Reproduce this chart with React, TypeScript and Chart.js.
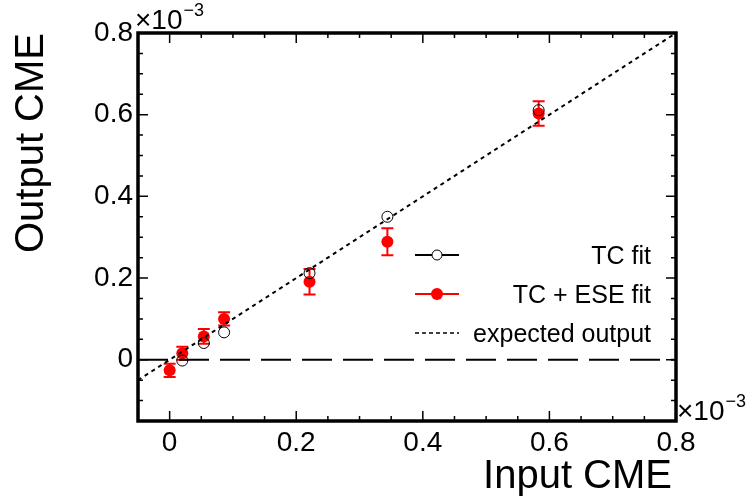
import React, { useEffect, useRef } from "react";
import { Chart, registerables } from "chart.js";

Chart.register(...registerables);

// ---- data (units of 1e-3) ----
const tcX = [0.02, 0.054, 0.086, 0.221, 0.344, 0.583];
const tcY = [-0.002, 0.041, 0.067, 0.212, 0.35, 0.611];
const eseX = [0.0, 0.02, 0.054, 0.086, 0.221, 0.344, 0.583];
const eseY = [-0.026, 0.016, 0.057, 0.1, 0.191, 0.289, 0.603];
const eseErr = [0.016, 0.016, 0.018, 0.016, 0.031, 0.033, 0.03];
const lineX = [-0.05, 0.8];
const xRange = [-0.05, 0.8];
const yRange = [-0.15, 0.8];
const majorStep = 0.2;
const minorStep = 0.05;
const legendLabels = ["TC fit", "TC + ESE fit", "expected output"];
const xTitle = "Input CME";
const yTitle = "Output CME";
const expLabel = "×10";
const expSup = "−3";

const FONT = "'Liberation Sans', Arial, Helvetica, sans-serif";

const isMajor = (v: number) => {
  const r = Math.round(v / majorStep);
  return Math.abs(v - r * majorStep) < 1e-6;
};
const fmt = (v: number) => {
  if (!isMajor(v)) return "";
  const r = Math.round(v / majorStep);
  if (r < 0) return "";
  return r === 0 ? "0" : (r * majorStep).toFixed(1);
};

const framePlugin = {
  id: "rootFrame",
  beforeDatasetsDraw(chart: any) {
    const { ctx, scales } = chart;
    const xs = scales.x, ys = scales.y;
    ctx.save();
    ctx.strokeStyle = "#ff0000";
    ctx.lineWidth = 2;
    eseX.forEach((x, i) => {
      const px = xs.getPixelForValue(x);
      const y1 = ys.getPixelForValue(eseY[i] + eseErr[i]);
      const y2 = ys.getPixelForValue(eseY[i] - eseErr[i]);
      ctx.beginPath();
      ctx.moveTo(px, y1);
      ctx.lineTo(px, y2);
      ctx.moveTo(px - 6, y1);
      ctx.lineTo(px + 6, y1);
      ctx.moveTo(px - 6, y2);
      ctx.lineTo(px + 6, y2);
      ctx.stroke();
    });
    ctx.restore();
  },
  afterDraw(chart: any) {
    const { ctx, chartArea: a, scales } = chart;
    const xs = scales.x, ys = scales.y;
    ctx.save();
    // ticks
    ctx.strokeStyle = "#000";
    ctx.lineWidth = 1.5;
    xs.ticks.forEach((t: any) => {
      const px = xs.getPixelForValue(t.value);
      if (px <= a.left + 1 || px >= a.right - 1) return;
      const L = isMajor(t.value) ? 10 : 5;
      ctx.beginPath();
      ctx.moveTo(px, a.bottom);
      ctx.lineTo(px, a.bottom - L);
      ctx.moveTo(px, a.top);
      ctx.lineTo(px, a.top + L);
      ctx.stroke();
    });
    ys.ticks.forEach((t: any) => {
      const py = ys.getPixelForValue(t.value);
      if (py <= a.top + 1 || py >= a.bottom - 1) return;
      const L = isMajor(t.value) ? 10 : 5;
      ctx.beginPath();
      ctx.moveTo(a.left, py);
      ctx.lineTo(a.left + L, py);
      ctx.moveTo(a.right, py);
      ctx.lineTo(a.right - L, py);
      ctx.stroke();
    });
    // frame
    ctx.lineWidth = 3.5;
    ctx.strokeRect(a.left, a.top, a.right - a.left, a.bottom - a.top);

    // exponent labels
    ctx.fillStyle = "#000";
    ctx.textBaseline = "alphabetic";
    ctx.textAlign = "left";
    const drawExp = (x: number, y: number) => {
      ctx.font = `28px ${FONT}`;
      ctx.fillText(expLabel, x, y);
      const w = ctx.measureText(expLabel).width;
      ctx.font = `18px ${FONT}`;
      ctx.fillText(expSup, x + w + 1, y - 13);
    };
    drawExp(a.left - 3, a.top - 4);
    drawExp(a.right + 1, a.bottom - 1);

    // axis titles
    ctx.font = `40px ${FONT}`;
    ctx.textAlign = "right";
    ctx.fillText(xTitle, a.right - 4, 488);
    ctx.save();
    ctx.translate(43, a.top);
    ctx.rotate(-Math.PI / 2);
    ctx.textAlign = "right";
    ctx.fillText(yTitle, 0, 0);
    ctx.restore();

    // legend
    const lx1 = 415, lx2 = 459, lxm = 437, textR = 651;
    const rows = [255, 294, 333];
    ctx.font = `25px ${FONT}`;
    ctx.textAlign = "right";
    ctx.textBaseline = "alphabetic";
    const baseOff = 9;
    // TC fit
    ctx.strokeStyle = "#000";
    ctx.lineWidth = 2;
    ctx.beginPath();
    ctx.moveTo(lx1, rows[0]);
    ctx.lineTo(lxm - 5, rows[0]);
    ctx.moveTo(lxm + 5, rows[0]);
    ctx.lineTo(lx2, rows[0]);
    ctx.stroke();
    ctx.lineWidth = 1;
    ctx.beginPath();
    ctx.arc(lxm, rows[0], 5, 0, Math.PI * 2);
    ctx.stroke();
    ctx.fillText(legendLabels[0], textR, rows[0] + baseOff);
    // TC + ESE fit
    ctx.strokeStyle = "#ff0000";
    ctx.fillStyle = "#ff0000";
    ctx.lineWidth = 2;
    ctx.beginPath();
    ctx.moveTo(lx1, rows[1]);
    ctx.lineTo(lx2, rows[1]);
    ctx.stroke();
    ctx.beginPath();
    ctx.arc(lxm, rows[1], 6, 0, Math.PI * 2);
    ctx.fill();
    ctx.fillStyle = "#000";
    ctx.fillText(legendLabels[1], textR, rows[1] + baseOff);
    // expected
    ctx.strokeStyle = "#000";
    ctx.lineWidth = 1.5;
    ctx.setLineDash([4, 3]);
    ctx.beginPath();
    ctx.moveTo(lx1, rows[2]);
    ctx.lineTo(lx2, rows[2]);
    ctx.stroke();
    ctx.setLineDash([]);
    ctx.fillText(legendLabels[2], textR, rows[2] + baseOff);
    ctx.restore();
  },
};

export default function App() {
  const ref = useRef<HTMLCanvasElement | null>(null);
  useEffect(() => {
    if (!ref.current) return;
    const tickFont = { family: FONT, size: 28 };
    const chart = new Chart(ref.current, {
      type: "scatter",
      data: {
        datasets: [
          {
            type: "line",
            label: "zero",
            data: lineX.map((x) => ({ x, y: 0 })),
            borderColor: "#000",
            borderWidth: 2,
            borderDash: [30, 11],
            pointRadius: 0,
            fill: false,
          } as any,
          {
            type: "line",
            label: legendLabels[2],
            data: lineX.map((x) => ({ x, y: x })),
            borderColor: "#000",
            borderWidth: 2,
            borderDash: [4, 4],
            pointRadius: 0,
            fill: false,
          } as any,
          {
            label: legendLabels[0],
            data: tcX.map((x, i) => ({ x, y: tcY[i] })),
            pointStyle: "circle",
            pointRadius: 5.5,
            borderColor: "#000",
            borderWidth: 1,
            backgroundColor: "rgba(0,0,0,0)",
          },
          {
            label: legendLabels[1],
            data: eseX.map((x, i) => ({ x, y: eseY[i] })),
            pointStyle: "circle",
            pointRadius: 6,
            borderColor: "#ff0000",
            borderWidth: 0,
            backgroundColor: "#ff0000",
          },
        ],
      },
      options: {
        responsive: false,
        animation: false,
        devicePixelRatio: 1,
        events: [],
        layout: { padding: { left: 0, top: 33, right: 72, bottom: 0 } },
        plugins: { legend: { display: false }, tooltip: { enabled: false } },
        scales: {
          x: {
            type: "linear",
            min: xRange[0],
            max: xRange[1],
            afterFit: (s: any) => {
              s.height = 76;
            },
            grid: { display: false, drawTicks: false },
            border: { display: false },
            ticks: {
              stepSize: minorStep,
              autoSkip: false,
              maxRotation: 0,
              padding: 5,
              color: "#000",
              font: tickFont,
              callback: (v: any) => fmt(Number(v)),
            },
          },
          y: {
            type: "linear",
            min: yRange[0],
            max: yRange[1],
            afterFit: (s: any) => {
              s.width = 138;
            },
            grid: { display: false, drawTicks: false },
            border: { display: false },
            ticks: {
              stepSize: minorStep,
              autoSkip: false,
              padding: 5,
              color: "#000",
              font: tickFont,
              callback: (v: any) => fmt(Number(v)),
            },
          },
        },
      } as any,
      plugins: [framePlugin],
    });
    return () => chart.destroy();
  }, []);
  return (
    <div style={{ position: "absolute", left: 0, top: 0, width: 748, height: 497, background: "#fff" }}>
      <canvas ref={ref} width={748} height={497} style={{ display: "block" }} />
    </div>
  );
}
